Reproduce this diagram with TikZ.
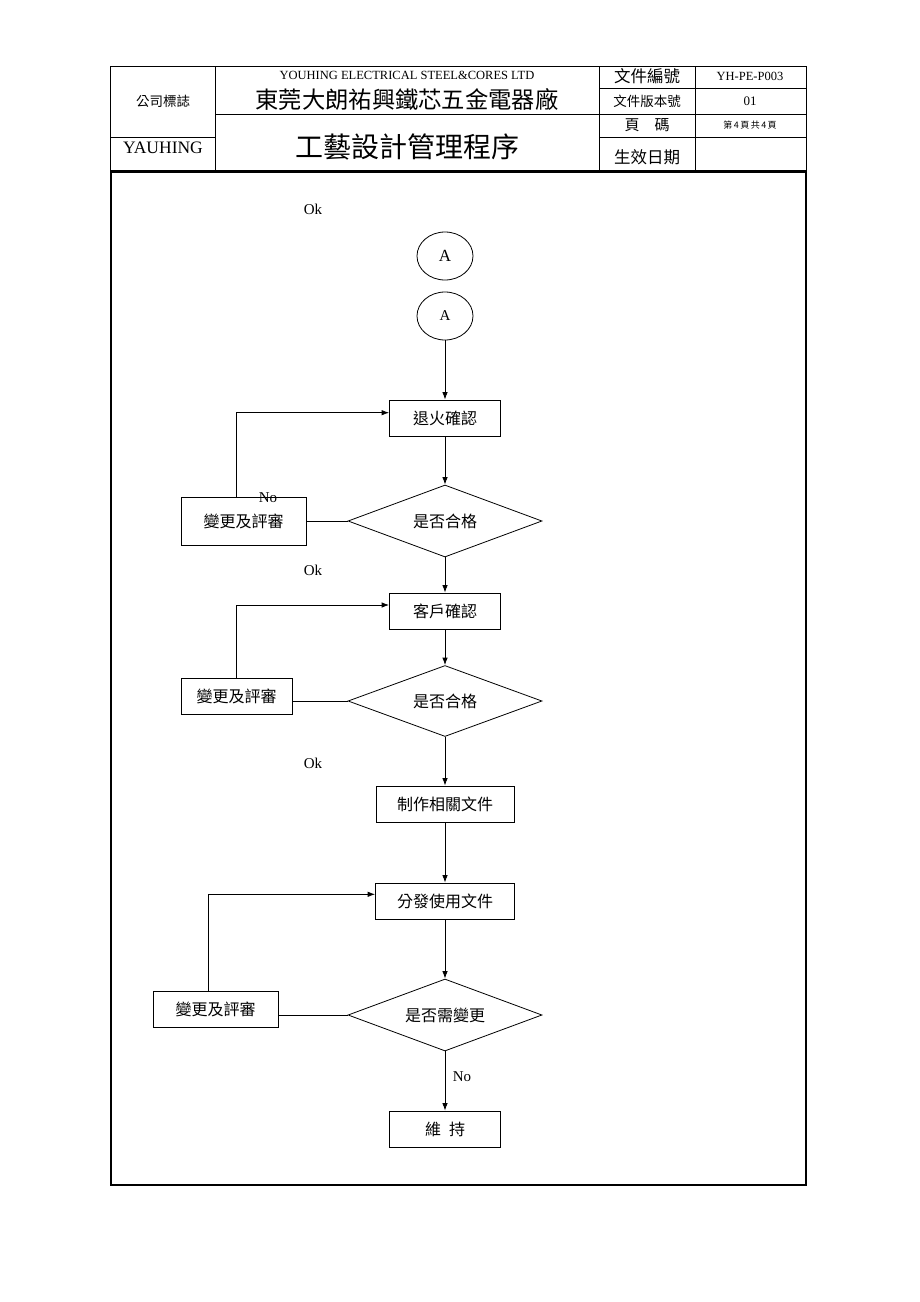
\documentclass[tikz,border=0pt]{standalone}
\usepackage{fontspec}
\setmainfont{Liberation Serif}
\newfontfamily\cjk{Noto Sans CJK TC}
\usetikzlibrary{shapes.geometric,arrows.meta}
\begin{document}
\begin{tikzpicture}[x=1pt,y=-1pt,line width=0.8pt,
  box/.style={draw,rectangle,inner sep=0pt,minimum height=36pt,font=\cjk\fontsize{16}{18}\selectfont},
  dia/.style={draw,diamond,aspect=2.7,inner sep=0pt,minimum width=194pt,minimum height=72pt,font=\cjk\fontsize{16}{18}\selectfont},
  conn/.style={draw,ellipse,inner sep=0pt,minimum width=56pt,minimum height=48pt},
  arr/.style={-{Latex[length=7.5pt,width=5.5pt]}},
  lbl/.style={font=\fontsize{15}{17}\selectfont,inner sep=0pt},
  hcjk/.style={font=\cjk\fontsize{#1}{#1}\selectfont,inner sep=0pt},
  hlat/.style={font=\fontsize{#1}{#1}\selectfont,inner sep=0pt}]
\useasboundingbox (0,0) rectangle (920,1302);
% header table
\draw (110,66) rectangle (806,170);
\draw (215,66) -- (215,170);
\draw (599,66) -- (599,170);
\draw (695,66) -- (695,170);
\draw (599,88) -- (806,88);
\draw (215,114) -- (806,114);
\draw (599,137) -- (806,137);
\draw (110,137) -- (215,137);
\node[hcjk=13.5] (logo) at (163,101) {公司標誌};
\node[hlat=17.5] (yau) at (163,148) {YAUHING};
\node[hlat=12.5] (eng) at (407,75) {YOUHING ELECTRICAL STEEL\&CORES LTD};
\node[hcjk=23.3] (chn) at (407,99) {東莞大朗祐興鐵芯五金電器廠};
\node[hcjk=28] (title) at (407,147) {工藝設計管理程序};
\node[hcjk=16.5] (h1) at (647,76) {文件編號};
\node[hcjk=13.5] (h2) at (647,101) {文件版本號};
\node[hcjk=15] (h3) at (647,125) {頁\hspace{1em}碼};
\node[hcjk=16.5] (h4) at (647,157) {生效日期};
\node[hlat=12.5] (v1) at (750,76) {YH-PE-P003};
\node[hlat=13] (v2) at (750,101) {01};
\node[hcjk=9] (v3) at (750,125) {第\,4\,頁\,共\,4\,頁};
% main frame
\draw[line width=2pt] (111,172) rectangle (806,1185);
% flowchart
\node[lbl] (ok0) at (313,209) {Ok};
\node[conn,font=\fontsize{17}{17}\selectfont] (a1) at (445,256) {A};
\node[conn,font=\fontsize{15}{15}\selectfont] (a2) at (445,316) {A};
\node[box,minimum width=111pt] (b1) at (445,418) {退火確認};
\node[dia] (d1) at (445,521) {是否合格};
\node[box,minimum width=125pt,minimum height=48pt] (r1) at (243.5,521) {變更及評審};
\node[lbl] (no1) at (268,498) {No};
\node[lbl] (ok1) at (313,570) {Ok};
\node[box,minimum width=111pt] (b2) at (445,611) {客戶確認};
\node[dia,minimum height=71pt] (d2) at (445,701) {是否合格};
\node[box,minimum width=111pt] (r2) at (236.5,696) {變更及評審};
\node[lbl] (ok2) at (313,763) {Ok};
\node[box,minimum width=138pt] (b3) at (445,804) {制作相關文件};
\node[box,minimum width=139pt] (b4) at (445,901) {分發使用文件};
\node[dia] (d3) at (445,1015) {是否需變更};
\node[box,minimum width=125pt] (r3) at (215.5,1009) {變更及評審};
\node[lbl] (no3) at (462,1077) {No};
\node[box,minimum width=111pt] (b5) at (445,1129) {維\hspace{0.5em}持};
% connectors
\draw[arr] (a2) -- (b1);
\draw[arr] (b1) -- (d1);
\draw (d1.west) -- (r1.east);
\draw[arr] ([xshift=-7.2pt]r1.north) |- ([yshift=5.3pt]b1.west);
\draw[arr] (d1) -- (b2);
\draw[arr] (b2) -- (d2);
\draw (d2.west) -- (d2.west -| r2.east);
\draw[arr] (r2.north) |- ([yshift=6pt]b2.west);
\draw[arr] (d2) -- (b3);
\draw[arr] (b3) -- (b4);
\draw[arr] (b4) -- (d3);
\draw (d3.west) -- (d3.west -| r3.east);
\draw[arr] ([xshift=-7.2pt]r3.north) |- ([yshift=6.7pt]b4.west);
\draw[arr] (d3) -- (b5);
\end{tikzpicture}
\end{document}
